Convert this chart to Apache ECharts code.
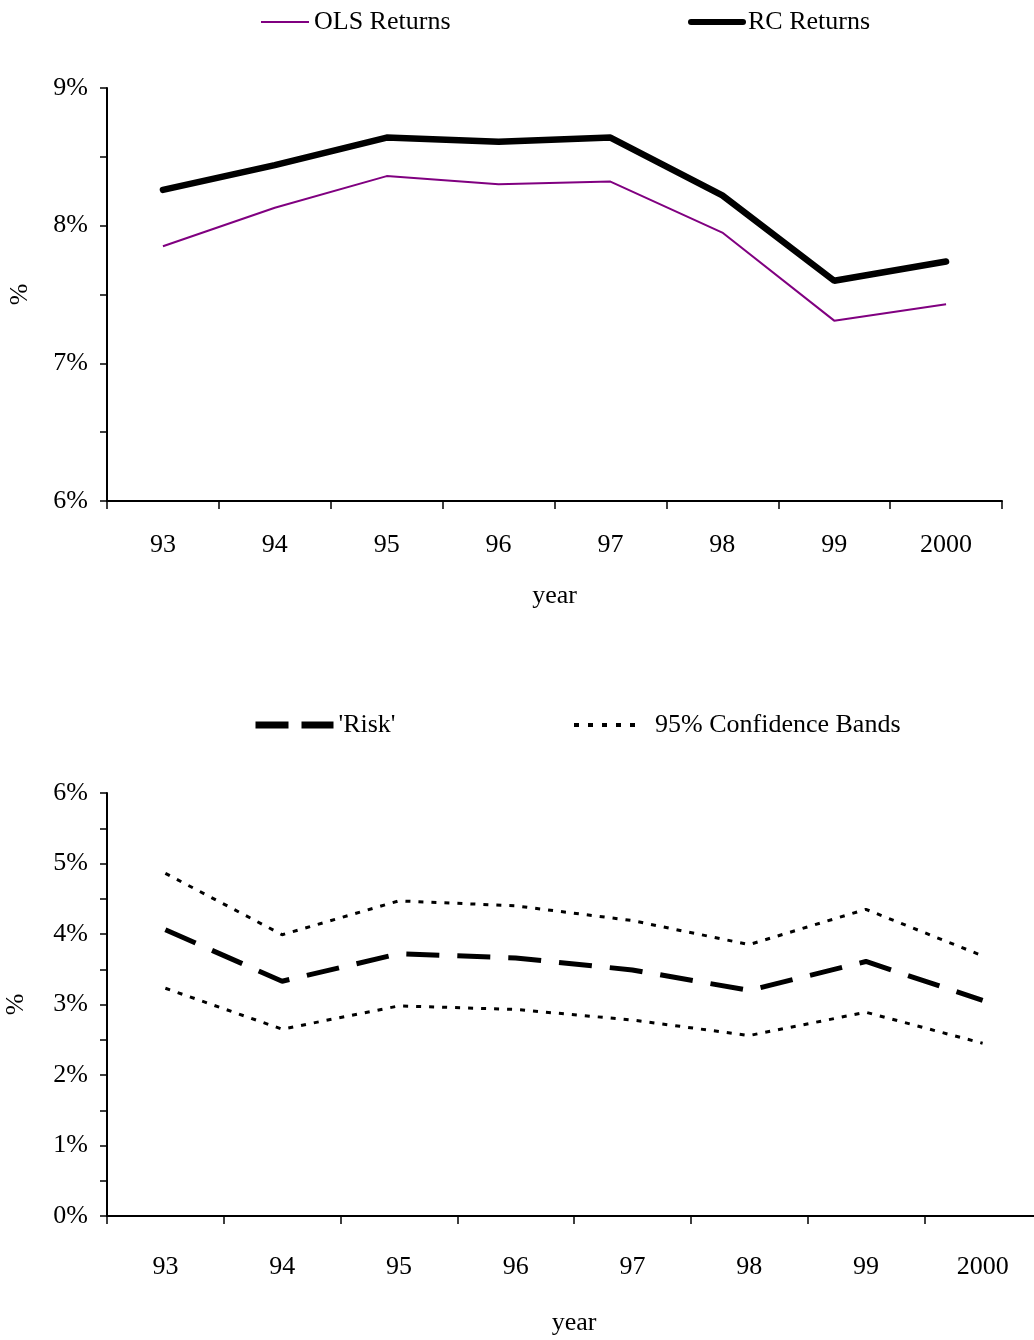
<!DOCTYPE html>
<html>
<head>
<meta charset="utf-8">
<script src="https://cdn.jsdelivr.net/npm/echarts@6/dist/echarts.min.js"></script>
<style>
  html, body { margin: 0; padding: 0; background: #fff; }
  #chart { width: 1034px; height: 1340px; }
</style>
</head>
<body>
<div id="chart"></div>
<script>
// data (percent)
const years = ['93', '94', '95', '96', '97', '98', '99', '2000'];
const olsReturns = [7.85, 8.13, 8.36, 8.30, 8.32, 7.95, 7.31, 7.43];
const rcReturns = [8.26, 8.44, 8.64, 8.61, 8.64, 8.22, 7.60, 7.74];
const risk = [4.06, 3.33, 3.72, 3.66, 3.49, 3.20, 3.61, 3.06];
const upperBand = [4.86, 3.99, 4.47, 4.40, 4.19, 3.85, 4.35, 3.69];
const lowerBand = [3.23, 2.65, 2.98, 2.93, 2.78, 2.56, 2.89, 2.45];

const FONT = 'Liberation Serif';
const FS = 26;
const txt = { fontFamily: FONT, fontSize: FS, color: '#000' };

const chart = echarts.init(document.getElementById('chart'));

function xAxisFor(gridIndex, labelMargin, nameGap) {
    return {
        type: 'category', gridIndex: gridIndex, data: years, boundaryGap: true,
        name: 'year', nameLocation: 'middle', nameGap: nameGap, nameTextStyle: txt,
        axisLine: { lineStyle: { color: '#000', width: 2 } },
        axisTick: { show: true, length: 8, lineStyle: { color: '#000', width: 1.5 } },
        axisLabel: Object.assign({ margin: labelMargin }, txt),
        splitLine: { show: false }
    };
}

function yAxisFor(gridIndex, min, max, nameGap) {
    return {
        type: 'value', gridIndex: gridIndex, min: min, max: max, interval: 0.5,
        name: '%', nameLocation: 'middle', nameGap: nameGap, nameRotate: 90, nameTextStyle: txt,
        axisLine: { show: true, lineStyle: { color: '#000', width: 2 } },
        axisTick: { show: true, length: 7, lineStyle: { color: '#000', width: 1.5 } },
        axisLabel: Object.assign({
            margin: 19,
            formatter: v => Number.isInteger(v) ? v + '%' : ''
        }, txt),
        splitLine: { show: false }
    };
}

// one legend box per item so each can sit where the picture has it
function legendAt(name, left, top, width, lineStyle, textPad) {
    return {
        data: [name], left: left, top: top, padding: 0,
        itemWidth: width, itemHeight: 14,
        textStyle: Object.assign({ padding: [0, 0, 0, textPad || 0] }, txt),
        selectedMode: false,
        itemStyle: { opacity: 0 },
        lineStyle: lineStyle
    };
}

chart.setOption({
    backgroundColor: '#fff',
    animation: false,
    legend: [
        legendAt('OLS Returns', 260, 9, 48, { width: 2 }),
        legendAt('RC Returns', 688, 9, 52, { width: 6, cap: 'round' }),
        legendAt("'Risk'", 252, 712, 78, { width: 7, type: [33, 13] }),
        legendAt('95% Confidence Bands', 572, 712, 68, { width: 4, type: [5, 9] }, 8)
    ],
    grid: [
        { left: 107, top: 88, width: 895, height: 413, outerBoundsMode: 'none' },
        { left: 107, top: 793, width: 934, height: 423, outerBoundsMode: 'none' }
    ],
    xAxis: [xAxisFor(0, 31, 82), xAxisFor(1, 38, 94)],
    yAxis: [yAxisFor(0, 6, 9, 74), yAxisFor(1, 0, 6, 78)],
    series: [
        {
            name: 'OLS Returns', type: 'line', xAxisIndex: 0, yAxisIndex: 0,
            data: olsReturns, symbol: 'none',
            lineStyle: { color: '#800080', width: 2 }, itemStyle: { color: '#800080' }
        },
        {
            name: 'RC Returns', type: 'line', xAxisIndex: 0, yAxisIndex: 0,
            data: rcReturns, symbol: 'none',
            lineStyle: { color: '#000', width: 6.5, cap: 'round' }, itemStyle: { color: '#000' }
        },
        {
            name: "'Risk'", type: 'line', xAxisIndex: 1, yAxisIndex: 1,
            data: risk, symbol: 'none',
            lineStyle: { color: '#000', width: 5, type: [33, 18] }, itemStyle: { color: '#000' }
        },
        {
            name: '95% Confidence Bands', type: 'line', xAxisIndex: 1, yAxisIndex: 1,
            data: upperBand, symbol: 'none',
            lineStyle: { color: '#000', width: 3, type: [5, 8] }, itemStyle: { color: '#000' }
        },
        {
            name: 'lower band', type: 'line', xAxisIndex: 1, yAxisIndex: 1,
            data: lowerBand, symbol: 'none',
            lineStyle: { color: '#000', width: 3, type: [5, 8] }, itemStyle: { color: '#000' }
        }
    ]
});

window.onresize = () => chart.resize();
</script>
</body>
</html>
